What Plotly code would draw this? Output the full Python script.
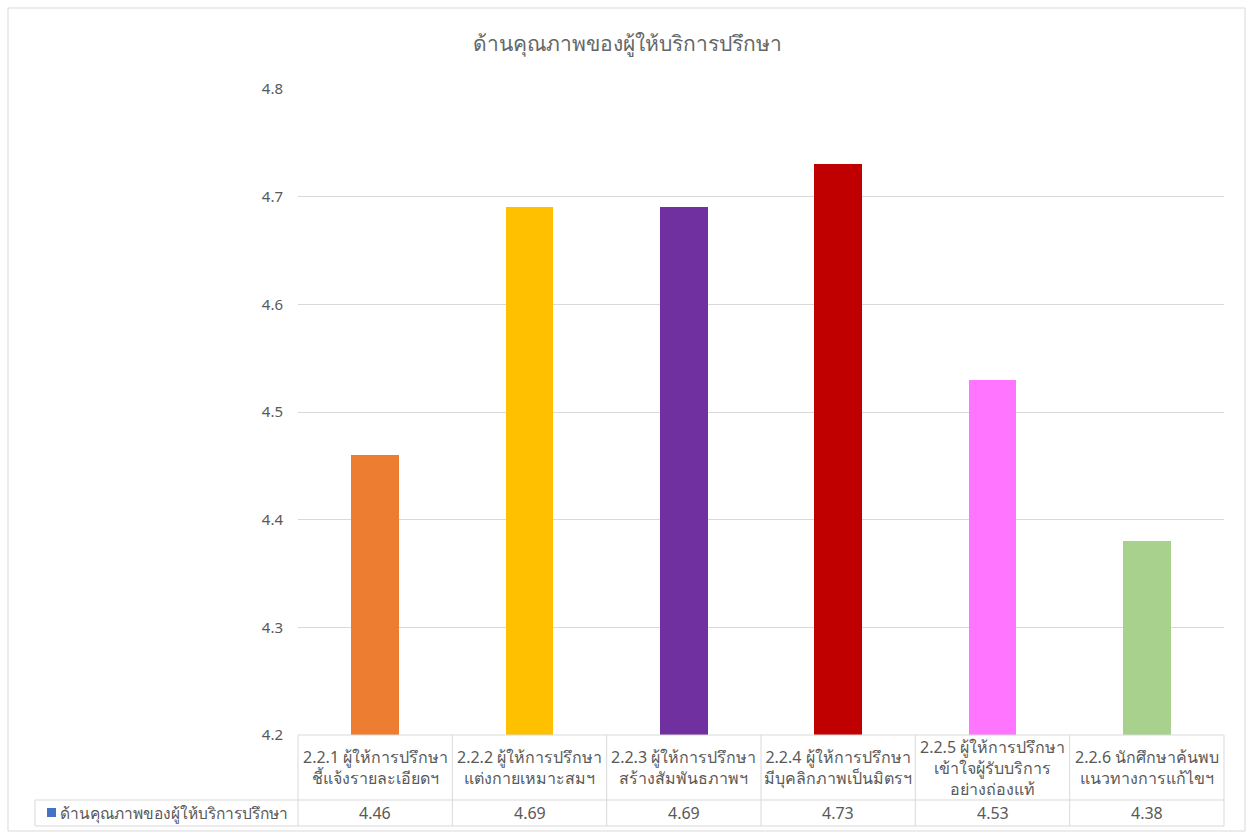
import plotly.graph_objects as go

# Service-quality scores per item
categories = [
    "2.2.1 ผู้ให้การปรึกษา<br>ชี้แจ้งรายละเอียดฯ",
    "2.2.2 ผู้ให้การปรึกษา<br>แต่งกายเหมาะสมฯ",
    "2.2.3 ผู้ให้การปรึกษา<br>สร้างสัมพันธภาพฯ",
    "2.2.4 ผู้ให้การปรึกษา<br>มีบุคลิกภาพเป็นมิตรฯ",
    "2.2.5 ผู้ให้การปรึกษา<br>เข้าใจผู้รับบริการ<br>อย่างถ่องแท้",
    "2.2.6 นักศึกษาค้นพบ<br>แนวทางการแก้ไขฯ",
]
scores = [4.46, 4.69, 4.69, 4.73, 4.53, 4.38]
bar_colors = ["#ED7D31", "#FFC000", "#7030A0", "#C00000", "#FF75FF", "#A9D18E"]
series_name = "ด้านคุณภาพของผู้ให้บริการปรึกษา"
title_text = "ด้านคุณภาพของผู้ให้บริการปรึกษา"
y_ticks = [4.2, 4.3, 4.4, 4.5, 4.6, 4.7, 4.8]

W, H = 1246, 832
ML, MR, MT, MB = 298, 22, 89, 97
PW, PH = W - ML - MR, H - MT - MB

def px_x(px):
    return (px - ML) / PW

def px_y(py):
    return (H - MB - py) / PH

FONT = "Noto Sans, DejaVu Sans, sans-serif"
GRID = "#D9D9D9"
TXT = "#595959"

n = len(categories)
xs = list(range(n))

fig = go.Figure(
    go.Bar(
        x=xs,
        y=scores,
        marker=dict(color=bar_colors, line=dict(width=0)),
        width=0.31,
        name=series_name,
        showlegend=False,
    )
)

shapes = []
annotations = []

# outer chart border
shapes.append(dict(type="rect", xref="paper", yref="paper",
                   x0=px_x(8), x1=px_x(1245), y0=px_y(831), y1=px_y(8),
                   line=dict(color=GRID, width=1), fillcolor="rgba(0,0,0,0)", layer="below"))

# data table: rows beneath the plot area
row_top, row_mid, row_bot = px_y(735), px_y(800), px_y(826)
legend_left = px_x(35)
shapes.append(dict(type="line", xref="paper", yref="paper", x0=0, x1=1, y0=row_top, y1=row_top,
                   line=dict(color=GRID, width=1)))
shapes.append(dict(type="line", xref="paper", yref="paper", x0=legend_left, x1=1, y0=row_mid, y1=row_mid,
                   line=dict(color=GRID, width=1)))
shapes.append(dict(type="line", xref="paper", yref="paper", x0=legend_left, x1=1, y0=row_bot, y1=row_bot,
                   line=dict(color=GRID, width=1)))
shapes.append(dict(type="line", xref="paper", yref="paper", x0=legend_left, x1=legend_left,
                   y0=row_bot, y1=row_mid, line=dict(color=GRID, width=1)))
for i in range(n + 1):
    xb = i / n
    shapes.append(dict(type="line", xref="paper", yref="paper", x0=xb, x1=xb,
                       y0=row_bot, y1=row_top, line=dict(color=GRID, width=1)))

for i, (cat, val) in enumerate(zip(categories, scores)):
    annotations.append(dict(x=i, xref="x", y=(row_top + row_mid) / 2, yref="paper",
                            text=cat, showarrow=False, xanchor="center", yanchor="middle",
                            font=dict(size=16, color=TXT, family=FONT), align="center"))
    annotations.append(dict(x=i, xref="x", y=(row_mid + row_bot) / 2, yref="paper",
                            text=f"{val:.2f}", showarrow=False, xanchor="center", yanchor="middle",
                            font=dict(size=16, color=TXT, family=FONT)))

# legend key in the table
shapes.append(dict(type="rect", xref="paper", yref="paper",
                   x0=px_x(47), x1=px_x(56), y0=px_y(817), y1=px_y(808),
                   fillcolor="#4472C4", line=dict(width=0)))
annotations.append(dict(x=px_x(58), xref="paper", y=(row_mid + row_bot) / 2, yref="paper",
                        text=series_name, showarrow=False, xanchor="left", yanchor="middle",
                        font=dict(size=15.5, color=TXT, family=FONT)))

fig.update_layout(
    width=W, height=H,
    margin=dict(l=ML, r=MR, t=MT, b=MB),
    paper_bgcolor="white", plot_bgcolor="white",
    title=dict(text=title_text, x=627 / W, xanchor="center", y=1 - 44 / H, yanchor="middle",
               font=dict(size=21, color="#666666", family=FONT)),
    xaxis=dict(range=[-0.5, n - 0.5], showticklabels=False, showgrid=False, zeroline=False,
               showline=False, ticks=""),
    yaxis=dict(range=[4.2, 4.8], tickvals=y_ticks, ticktext=[f"{v:.1f}" for v in y_ticks],
               showgrid=True, gridcolor=GRID, gridwidth=1, zeroline=False, showline=False,
               ticks="", ticklen=0, ticklabelstandoff=14,
               tickfont=dict(size=15, color=TXT, family=FONT)),
    shapes=shapes,
    annotations=annotations,
    bargap=0,
    showlegend=False,
)

fig.write_html("out.html")
